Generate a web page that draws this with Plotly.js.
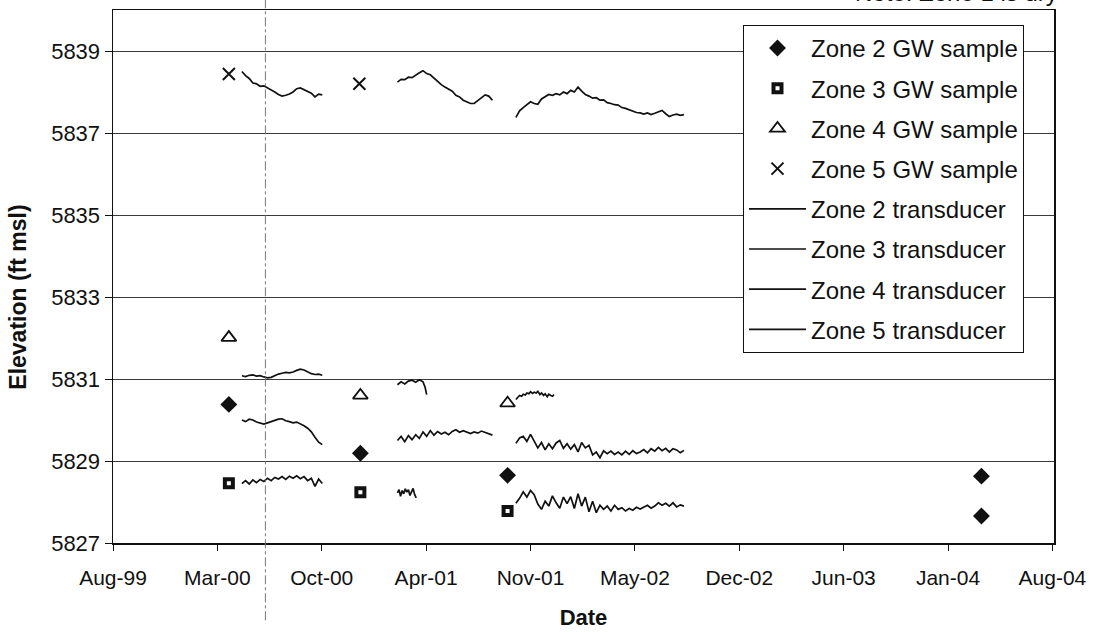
<!DOCTYPE html>
<html>
<head>
<meta charset="utf-8">
<script src="https://cdn.plot.ly/plotly-3.0.1.min.js"></script>
<style>
  html, body { margin: 0; padding: 0; background: #fff; }
  #chart { width: 1095px; height: 632px; }
</style>
</head>
<body>
<div id="chart"></div>
<script>
// ---------- sample dates & values ----------
const sampleDates = ['2000-04-06', '2000-12-14', '2001-09-22'];
const zone2SampleDates = ['2000-04-06', '2000-12-14', '2001-09-22', '2004-03-18', '2004-03-18'];
const zone2Samples = [5830.38, 5829.19, 5828.65, 5828.63, 5827.66];
const zone3Samples = [5828.46, 5828.24, 5827.78];
const zone4Samples = [5832.01, 5830.60, 5830.41];
const zone5SampleDates = ['2000-04-06', '2000-12-12'];
const zone5Samples = [5838.44, 5838.20];

// ---------- transducer dates ----------
const datesA = ['2000-05-01','2000-05-08','2000-05-15','2000-05-22','2000-05-29','2000-06-05','2000-06-12','2000-06-19','2000-06-26','2000-07-03','2000-07-10','2000-07-17','2000-07-24','2000-07-31','2000-08-07','2000-08-14','2000-08-21','2000-08-28','2000-09-04','2000-09-11','2000-09-18','2000-09-25','2000-10-02'];
const datesB = ['2001-02-23','2001-03-02','2001-03-09','2001-03-16','2001-03-23','2001-03-30','2001-04-06','2001-04-13','2001-04-20','2001-04-27','2001-05-04','2001-05-11','2001-05-18','2001-05-25','2001-06-01','2001-06-08','2001-06-15','2001-06-22','2001-06-29','2001-07-06','2001-07-13','2001-07-20','2001-07-27','2001-08-03','2001-08-10','2001-08-17','2001-08-24'];
const datesC = ['2001-10-08','2001-10-15','2001-10-22','2001-10-29','2001-11-05','2001-11-12','2001-11-19','2001-11-26','2001-12-03','2001-12-10','2001-12-17','2001-12-24','2001-12-31','2002-01-07','2002-01-14','2002-01-21','2002-01-28','2002-02-04','2002-02-11','2002-02-18','2002-02-25','2002-03-04','2002-03-11','2002-03-18','2002-03-25','2002-04-01','2002-04-08','2002-04-15','2002-04-22','2002-04-29','2002-05-06','2002-05-13','2002-05-20','2002-05-27','2002-06-03','2002-06-10','2002-06-17','2002-06-24','2002-07-01','2002-07-08','2002-07-15','2002-07-22','2002-07-29','2002-08-05','2002-08-12','2002-08-19','2002-08-26'];
const datesZ4B = ['2001-02-23','2001-03-02','2001-03-09','2001-03-16','2001-03-23','2001-03-30','2001-04-06','2001-04-13','2001-04-17','2001-04-20'];
const datesZ3B = ['2001-02-23','2001-02-26','2001-03-01','2001-03-04','2001-03-07','2001-03-10','2001-03-13','2001-03-16','2001-03-19','2001-03-22','2001-03-25','2001-03-28','2001-03-31'];
const datesZ4C = ['2001-10-08','2001-10-12','2001-10-15','2001-10-19','2001-10-22','2001-10-26','2001-10-29','2001-11-02','2001-11-05','2001-11-09','2001-11-12','2001-11-16','2001-11-19','2001-11-23','2001-11-26','2001-11-30','2001-12-03','2001-12-07','2001-12-10','2001-12-14','2001-12-17','2001-12-20'];

// ---------- transducer values ----------
const zone5A = [5838.50,5838.40,5838.33,5838.22,5838.20,5838.14,5838.15,5838.10,5838.07,5838.00,5837.94,5837.90,5837.92,5837.95,5838.00,5838.08,5838.10,5838.06,5838.03,5837.97,5837.88,5837.95,5837.93];
const zone5B = [5838.24,5838.31,5838.30,5838.36,5838.35,5838.42,5838.47,5838.52,5838.45,5838.42,5838.34,5838.24,5838.18,5838.12,5838.07,5838.02,5837.92,5837.88,5837.80,5837.75,5837.72,5837.72,5837.79,5837.85,5837.93,5837.90,5837.80];
const zone5C = [5837.38,5837.54,5837.62,5837.70,5837.76,5837.72,5837.70,5837.83,5837.88,5837.94,5837.92,5837.96,5837.93,5838.00,5837.96,5838.04,5838.00,5838.12,5838.02,5837.94,5837.90,5837.85,5837.86,5837.80,5837.81,5837.74,5837.72,5837.69,5837.68,5837.62,5837.60,5837.57,5837.54,5837.50,5837.49,5837.46,5837.49,5837.45,5837.48,5837.51,5837.55,5837.47,5837.40,5837.44,5837.46,5837.43,5837.45];

const zone4A = [5831.08,5831.06,5831.09,5831.10,5831.07,5831.08,5831.05,5831.03,5831.04,5831.09,5831.12,5831.14,5831.16,5831.15,5831.17,5831.21,5831.24,5831.22,5831.17,5831.13,5831.11,5831.12,5831.09];
const zone4B = [5830.86,5830.93,5830.88,5830.95,5830.97,5830.92,5830.98,5830.93,5830.80,5830.62];
const zone4C = [5830.50,5830.55,5830.60,5830.58,5830.63,5830.61,5830.66,5830.64,5830.69,5830.65,5830.68,5830.66,5830.70,5830.62,5830.66,5830.60,5830.64,5830.57,5830.63,5830.60,5830.58,5830.62];

const zone2A = [5830.00,5829.96,5830.02,5830.00,5829.95,5829.93,5829.90,5829.93,5829.96,5829.98,5830.02,5830.03,5829.98,5829.96,5829.93,5829.95,5829.91,5829.86,5829.80,5829.71,5829.58,5829.46,5829.40];
const zone2B = [5829.50,5829.60,5829.47,5829.62,5829.52,5829.64,5829.55,5829.71,5829.60,5829.74,5829.63,5829.72,5829.66,5829.70,5829.64,5829.72,5829.76,5829.70,5829.74,5829.71,5829.67,5829.71,5829.68,5829.73,5829.70,5829.66,5829.63];
const zone2C = [5829.43,5829.56,5829.60,5829.48,5829.65,5829.50,5829.32,5829.45,5829.27,5829.42,5829.30,5829.44,5829.50,5829.31,5829.42,5829.29,5829.40,5829.22,5829.45,5829.32,5829.38,5829.15,5829.22,5829.08,5829.25,5829.18,5829.24,5829.16,5829.22,5829.15,5829.24,5829.16,5829.25,5829.18,5829.22,5829.28,5829.20,5829.30,5829.24,5829.33,5829.25,5829.31,5829.22,5829.30,5829.27,5829.20,5829.26];

const zone3A = [5828.45,5828.52,5828.44,5828.54,5828.47,5828.55,5828.50,5828.58,5828.52,5828.60,5828.56,5828.62,5828.55,5828.63,5828.58,5828.64,5828.57,5828.62,5828.52,5828.58,5828.38,5828.56,5828.45];
const zone3B = [5828.22,5828.30,5828.14,5828.28,5828.20,5828.32,5828.24,5828.30,5828.16,5828.27,5828.33,5828.18,5828.10];
const zone3C = [5827.97,5828.09,5828.25,5828.12,5828.28,5828.18,5827.95,5827.82,5828.02,5827.90,5828.15,5827.98,5827.85,5828.12,5827.96,5828.13,5827.84,5828.20,5827.90,5828.12,5827.76,5828.02,5827.74,5827.92,5827.82,5827.90,5827.78,5827.92,5827.82,5827.86,5827.78,5827.84,5827.80,5827.87,5827.83,5827.88,5827.92,5827.85,5827.90,5827.98,5827.92,5827.97,5827.90,5827.98,5827.88,5827.93,5827.90];

// ---------- axis / tick settings ----------
const xRange = ['1999-08-28', '2004-08-04'];
const xTick0 = '1999-08-28';
const xTickDays = 200;
const yRange = [5827, 5840];
const yTick0 = 5827;
const yTickStep = 2;
const guideDate = '2000-06-15';
const noteText = 'Note: Zone 1 is dry';
const yTitleText = 'Elevation (ft msl)';

// join segments with null gaps
function joinSegs(segs) {
  const x = [], y = [];
  segs.forEach((s, i) => {
    if (i > 0) { x.push(null); y.push(null); }
    x.push(...s[0]); y.push(...s[1]);
  });
  return {x, y};
}

const ink = '#111111';
const FONT = 'Arial, "Liberation Sans", sans-serif';

const z2 = joinSegs([[datesA, zone2A], [datesB, zone2B], [datesC, zone2C]]);
const z3 = joinSegs([[datesA, zone3A], [datesZ3B, zone3B], [datesC, zone3C]]);
const z4 = joinSegs([[datesA, zone4A], [datesZ4B, zone4B], [datesZ4C, zone4C]]);
const z5 = joinSegs([[datesA, zone5A], [datesB, zone5B], [datesC, zone5C]]);

const traces = [
  {name: 'Zone 2 GW sample', x: zone2SampleDates, y: zone2Samples, mode: 'markers', type: 'scatter',
   marker: {symbol: 'diamond', size: 13, color: ink}, legendgroup: 'a'},
  {name: 'Zone 3 GW sample', x: sampleDates, y: zone3Samples, mode: 'markers', type: 'scatter',
   marker: {symbol: 'square-open', size: 8, color: ink, line: {width: 4, color: ink}}, legendgroup: 'b'},
  {name: 'Zone 4 GW sample', x: sampleDates, y: zone4Samples, mode: 'markers', type: 'scatter',
   marker: {symbol: 'triangle-up-open', size: 13, color: ink, line: {width: 1.8, color: ink}}, legendgroup: 'c'},
  {name: 'Zone 5 GW sample', x: zone5SampleDates, y: zone5Samples, mode: 'markers', type: 'scatter',
   marker: {symbol: 'x-thin-open', size: 12, color: ink, line: {width: 2, color: ink}}, legendgroup: 'd'},
  {name: 'Zone 2 transducer', x: z2.x, y: z2.y, mode: 'lines', type: 'scatter',
   line: {color: ink, width: 1.7}, legendgroup: 'e'},
  {name: 'Zone 3 transducer', x: z3.x, y: z3.y, mode: 'lines', type: 'scatter',
   line: {color: ink, width: 1.7}, legendgroup: 'f'},
  {name: 'Zone 4 transducer', x: z4.x, y: z4.y, mode: 'lines', type: 'scatter',
   line: {color: ink, width: 1.7}, legendgroup: 'g'},
  {name: 'Zone 5 transducer', x: z5.x, y: z5.y, mode: 'lines', type: 'scatter',
   line: {color: ink, width: 1.7}, legendgroup: 'h'}
];

const layout = {
  width: 1095, height: 632,
  margin: {l: 113, r: 41, t: 10, b: 89},
  paper_bgcolor: '#fff', plot_bgcolor: '#fff',
  font: {family: FONT, size: 21, color: ink},
  showlegend: true,
  legend: {
    x: 0.6695, y: 0.972, xanchor: 'left', yanchor: 'top',
    bgcolor: '#fff', bordercolor: ink, borderwidth: 1,
    font: {family: FONT, size: 24, color: ink},
    tracegroupgap: 6, itemwidth: 57,
    entrywidthmode: 'pixels', entrywidth: 286
  },
  xaxis: {
    type: 'date', range: xRange, tickmode: 'linear', tick0: xTick0,
    dtick: xTickDays * 86400000, tickformat: '%b-%y',
    showgrid: false, zeroline: false,
    showline: true, linecolor: ink, linewidth: 1.5, mirror: true,
    ticks: 'outside', ticklen: 6, tickcolor: ink, ticklabelstandoff: 9,
    tickfont: {family: FONT, size: 21, color: ink},
    title: {text: 'Date', font: {family: FONT, size: 22, color: ink, weight: 'bold'}, standoff: 22}
  },
  yaxis: {
    range: yRange, tickmode: 'linear', tick0: yTick0, dtick: yTickStep,
    showgrid: true, gridcolor: '#3a3a3a', gridwidth: 1,
    zeroline: false, showline: true, linecolor: ink, linewidth: 1.5, mirror: true,
    ticks: 'outside', ticklen: 7, tickcolor: ink,
    tickfont: {family: FONT, size: 22, color: ink}
  },
  shapes: [{
    type: 'line', xref: 'x', yref: 'paper', x0: guideDate, x1: guideDate, y0: -0.145, y1: 1.02,
    line: {color: '#777', width: 1, dash: 'dashdot'}
  }],
  annotations: [
    {text: noteText, xref: 'paper', yref: 'paper', x: 1.006, y: 1.0035, xanchor: 'right', yanchor: 'bottom',
     showarrow: false, font: {family: FONT, size: 24, color: ink}},
    {text: '<b>' + yTitleText + '</b>', xref: 'paper', yref: 'paper', x: -0.101, y: 0.462,
     xanchor: 'center', yanchor: 'middle', textangle: -90, showarrow: false,
     font: {family: FONT, size: 23, color: ink}}
  ]
};

Plotly.newPlot('chart', traces, layout, {displayModeBar: false, staticPlot: true});
</script>
</body>
</html>
